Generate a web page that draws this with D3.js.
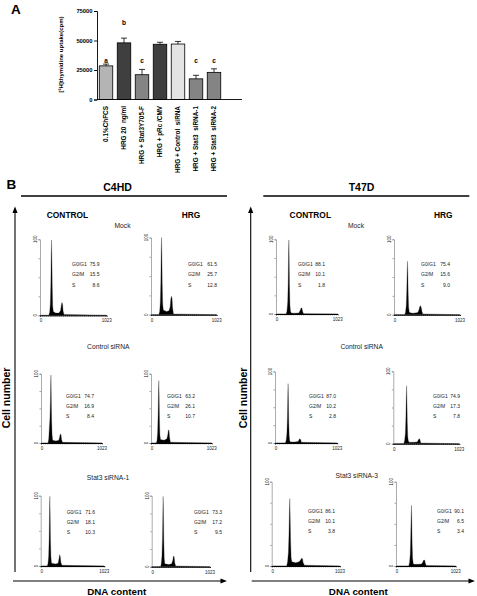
<!DOCTYPE html>
<html><head><meta charset="utf-8">
<script src="https://cdn.jsdelivr.net/npm/d3@7"></script>
<style>
body{margin:0;background:#fff}
svg{display:block}
text{font-family:"Liberation Sans",Arial,sans-serif}
</style>
</head><body>
<svg id="c" width="477" height="596"></svg>
<script>
// ---------------- DATA ----------------
// Panel A
const categories = ["0.1%ChFCS","HRG 20  ng/ml","HRG + Stat3Y705-F","HRG + pRc /CMV","HRG + Control  siRNA","HRG + Stat3  siRNA-1","HRG + Stat3  siRNA-2"];
const uptake = [28500, 48000, 21000, 46800, 47000, 17500, 23000];
const uptakeErr = [1500, 4000, 4500, 1700, 2200, 3000, 3000];
const sigLetters = ["a","b","c","","","c","c"];
const sigLevel = [30900, 63100, 30900, null, null, 30900, 30900];
const yTicksA = [0, 25000, 50000, 75000];

// Panel B
const cellLines = ["C4HD","T47D"];
const conditions = ["CONTROL","HRG"];
const treatmentsC4HD = ["Mock","Control siRNA","Stat3 siRNA-1"];
const treatmentsT47D = ["Mock","Control siRNA","Stat3 siRNA-3"];
const statLabels = ["G0/G1","G2/M","S"];
const statValues = [
  ["75.9","15.5","8.6"], ["61.5","25.7","12.8"], ["88.1","10.1","1.8"], ["75.4","15.6","9.0"],
  ["74.7","16.9","8.4"], ["63.2","26.1","10.7"], ["87.0","10.2","2.8"], ["74.9","17.3","7.8"],
  ["71.6","18.1","10.3"], ["73.3","17.2","9.5"], ["86.1","10.1","3.8"], ["90.1","6.5","3.4"]
];
// histograms: [channel, count %]
const histC4HDCtrlMock = [[0,0],[135,0],[148,4],[158,15],[166,40],[172,80],[177,99],[182,78],[188,38],[195,12],[204,5],[240,3],[290,3],[315,6],[326,13],[336,17],[346,15],[354,6],[368,1],[1023,0]];
const histC4HDHrgMock = [[0,0],[122,0],[135,4],[145,16],[153,42],[159,82],[164,100],[169,80],[175,40],[182,14],[192,6],[240,4],[280,5],[298,10],[308,20],[318,24],[328,21],[336,9],[350,1],[1023,0]];
const histT47DCtrlMock = [[0,0],[168,0],[182,4],[194,16],[202,42],[208,80],[213,99],[218,78],[224,38],[231,12],[240,4],[252,1.5],[300,1],[380,1.5],[402,5],[416,8],[430,8],[442,3],[458,0.5],[1023,0]];
const histT47DHrgMock = [[0,0],[164,0],[178,3],[190,12],[198,32],[204,58],[209,71],[214,56],[220,28],[227,10],[236,4],[248,2.5],[300,2],[370,3],[388,7],[400,11],[412,12],[424,9],[434,4],[448,1],[1023,0]];
const histC4HDCtrlSi = [[0,0],[118,0],[130,6],[140,22],[150,36],[158,60],[163,85],[167,98],[172,70],[178,34],[186,12],[196,4],[250,3],[300,4],[313,9],[324,13],[336,12],[345,5],[360,1],[1023,0]];
const histC4HDHrgSi = [[0,0],[90,0],[102,4],[112,16],[120,42],[127,76],[132,90],[137,70],[143,34],[150,12],[160,5],[220,4],[268,6],[283,12],[294,19],[304,18],[313,8],[328,1],[1023,0]];
const histT47DCtrlSi = [[0,0],[170,0],[184,4],[196,14],[204,36],[210,66],[215,83],[220,64],[226,30],[233,10],[242,3],[254,1.5],[320,1.5],[380,2],[396,5],[408,6],[420,5],[433,1],[1023,0]];
const histT47DHrgSi = [[0,0],[162,0],[175,4],[187,14],[195,36],[201,64],[206,80],[211,62],[217,30],[224,10],[233,4],[245,2],[320,2],[370,2.5],[388,5],[400,7],[412,6],[426,1],[1023,0]];
const histC4HDCtrlS1 = [[0,0],[106,0],[118,4],[128,14],[136,40],[142,78],[147,99],[152,76],[158,36],[165,12],[175,4],[240,3],[280,4],[294,10],[304,16],[314,14],[325,5],[342,1],[1023,0]];
const histC4HDHrgS1 = [[0,0],[156,0],[168,4],[180,15],[189,40],[196,78],[201,99],[206,76],[213,36],[220,12],[230,4],[300,3],[350,4],[370,9],[382,15],[394,14],[406,5],[422,1],[1023,0]];
const histT47DCtrlS3 = [[0,0],[224,0],[238,5],[250,16],[258,36],[265,64],[271,80],[276,62],[283,30],[291,10],[302,5],[360,4],[410,5],[432,7],[446,9],[460,9],[472,4],[490,1],[1023,0]];
const histT47DHrgS3 = [[0,0],[218,0],[232,4],[244,14],[252,34],[259,58],[265,72],[270,56],[277,26],[285,9],[295,3],[308,2],[380,2],[440,2.5],[462,5],[476,7],[490,7],[504,3],[520,0.5],[1023,0]];
const histograms = [histC4HDCtrlMock, histC4HDHrgMock, histT47DCtrlMock, histT47DHrgMock,
                    histC4HDCtrlSi, histC4HDHrgSi, histT47DCtrlSi, histT47DHrgSi,
                    histC4HDCtrlS1, histC4HDHrgS1, histT47DCtrlS3, histT47DHrgS3];
const histYTicks = [0,25,50,75,100];

// ---------------- LAYOUT / STYLE ----------------
const barFills = ["#b4b4b4","#3f3f3f","#848484","#3f3f3f","#e4e4e4","#848484","#848484"];
const histLayout = [
  {x0:40,   x1:106.7, y0:239.3, y1:315.3, sx:72,  vx:99.5, sy:266},
  {x0:151,  x1:216.7, y0:237.5, y1:314.7, sx:188, vx:217,  sy:266},
  {x0:276,  x1:337.7, y0:239.3, y1:314,   sx:298, vx:325,  sy:266},
  {x0:394,  x1:460,   y0:239.3, y1:314.7, sx:421, vx:450,  sy:266},
  {x0:41,   x1:102,   y0:373.7, y1:443,   sx:66,  vx:94,   sy:397.5},
  {x0:151,  x1:211.7, y0:373.7, y1:443,   sx:167, vx:195,  sy:397.5},
  {x0:275,  x1:337.3, y0:371.5, y1:443,   sx:309, vx:336,  sy:397.5},
  {x0:393.3,x1:459.3, y0:371.3, y1:443.7, sx:433, vx:460,  sy:397.5},
  {x0:40.7, x1:104.3, y0:495.7, y1:566,   sx:66.7,vx:95,   sy:513.5},
  {x0:151.7,x1:210,   y0:495.7, y1:566.7, sx:194, vx:222,  sy:513.5},
  {x0:271.7,x1:340,   y0:481.7, y1:566,   sx:308, vx:335,  sy:512.7},
  {x0:396,  x1:455.7, y0:481.7, y1:566,   sx:437, vx:464,  sy:512.7}
];

const svg = d3.select("#c");

// ---------------- PANEL A ----------------
const yA = d3.scaleLinear().domain([0, 75000]).range([99.5, 11]);
const xA = d3.scaleBand().domain(categories).range([97, 223]).paddingInner(0.25).paddingOuter(0.125);

svg.append("text").attr("x", 11).attr("y", 14).attr("font-size", 13.5).attr("font-weight", "bold").text("A");

const gA = svg.append("g");
gA.selectAll("rect.bar").data(categories).join("rect")
  .attr("x", d => xA(d)).attr("width", xA.bandwidth())
  .attr("y", (d, i) => yA(uptake[i])).attr("height", (d, i) => yA(0) - yA(uptake[i]))
  .attr("fill", (d, i) => barFills[i]).attr("stroke", "#000").attr("stroke-width", 0.8);

categories.forEach((c, i) => {
  const cx = xA(c) + xA.bandwidth() / 2;
  gA.append("line").attr("x1", cx).attr("x2", cx)
    .attr("y1", yA(uptake[i])).attr("y2", yA(uptake[i] + uptakeErr[i]))
    .attr("stroke", "#000").attr("stroke-width", 0.8);
  gA.append("line").attr("x1", cx - 3).attr("x2", cx + 3)
    .attr("y1", yA(uptake[i] + uptakeErr[i])).attr("y2", yA(uptake[i] + uptakeErr[i]))
    .attr("stroke", "#000").attr("stroke-width", 0.8);
  if (sigLetters[i]) {
    gA.append("text").attr("x", cx).attr("y", yA(sigLevel[i]))
      .attr("text-anchor", "middle").attr("font-size", 6.5).attr("font-weight", "bold")
      .attr("fill", "#000").text(sigLetters[i]);
  }
  gA.append("text")
    .attr("transform", `translate(${cx + 2.3},106) rotate(-90)`)
    .attr("text-anchor", "end").attr("font-size", 6.4).attr("font-weight", "bold")
    .style("white-space", "pre")
    .text(c);
});

const axA = gA.append("g").attr("transform", "translate(97,0)")
  .call(d3.axisLeft(yA).tickValues(yTicksA).tickSize(3).tickPadding(1.5).tickFormat(d3.format("d")));
axA.selectAll("text").attr("font-size", 5.8).attr("font-weight", "bold").attr("font-family", '"Liberation Sans",Arial,sans-serif');
axA.select(".domain").attr("stroke-width", 0.9);
axA.selectAll(".tick line").attr("stroke-width", 0.9);
gA.append("line").attr("x1", 97).attr("x2", 242).attr("y1", yA(0)).attr("y2", yA(0))
  .attr("stroke", "#000").attr("stroke-width", 0.9);
gA.append("text").attr("transform", "translate(62.5,54.5) rotate(-90)")
  .attr("text-anchor", "middle").attr("font-size", 6).attr("font-weight", "bold")
  .text("[³H]thymidine uptake(cpm)");

// ---------------- PANEL B ----------------
svg.append("text").attr("x", 6.5).attr("y", 188.5).attr("font-size", 13.5).attr("font-weight", "bold").text("B");

const blocks = [
  {name: cellLines[0], cx: 117.5, lx0: 21, lx1: 227, colX: [67.5, 191], ax: 15, hx0: 13, hx1: 227, treat: treatmentsC4HD, tx: [122.5, 108.3, 108], ty: [228.3, 349, 480], ylabX: 10, dnaX: 116.7},
  {name: cellLines[1], cx: 361.5, lx0: 263.3, lx1: 469.3, colX: [310.3, 443.3], ax: 250.7, hx0: 251.7, hx1: 475, treat: treatmentsT47D, tx: [356, 361.7, 356.8], ty: [228.3, 349, 478], ylabX: 247, dnaX: 358.3}
];

blocks.forEach(b => {
  svg.append("text").attr("x", b.cx).attr("y", 190.5).attr("text-anchor", "middle")
    .attr("font-size", 10.5).attr("font-weight", "bold").text(b.name);
  svg.append("line").attr("x1", b.lx0).attr("x2", b.lx1).attr("y1", 196).attr("y2", 196)
    .attr("stroke", "#000").attr("stroke-width", 1.3);
  conditions.forEach((c, j) => {
    svg.append("text").attr("x", b.colX[j]).attr("y", 217.5).attr("text-anchor", "middle")
      .attr("font-size", 8.4).attr("font-weight", "bold").text(c);
  });
  b.treat.forEach((t, j) => {
    svg.append("text").attr("x", b.tx[j]).attr("y", b.ty[j]).attr("text-anchor", "middle")
      .attr("font-size", 6.7).attr("fill", "#222").text(t);
  });
  svg.append("line").attr("x1", b.ax).attr("x2", b.ax).attr("y1", 572).attr("y2", 212)
    .attr("stroke", "#000").attr("stroke-width", 1.1);
  svg.append("path").attr("d", `M${b.ax},206.5 L${b.ax - 2.6},213 L${b.ax + 2.6},213 Z`).attr("fill", "#000");
  svg.append("line").attr("x1", b.hx0).attr("x2", b.hx1 - 5).attr("y1", 581).attr("y2", 581)
    .attr("stroke", "#000").attr("stroke-width", 1.1);
  svg.append("path").attr("d", `M${b.hx1},581 L${b.hx1 - 6.5},578.4 L${b.hx1 - 6.5},583.6 Z`).attr("fill", "#000");
  svg.append("text").attr("transform", `translate(${b.ylabX},398) rotate(-90)`).attr("text-anchor", "middle")
    .attr("font-size", 10.5).attr("font-weight", "bold").text("Cell number");
  svg.append("text").attr("x", b.dnaX).attr("y", 595).attr("text-anchor", "middle")
    .attr("font-size", 9.8).attr("font-weight", "bold").text("DNA content");
});

histograms.forEach((h, i) => {
  const L = histLayout[i];
  const x = d3.scaleLinear().domain([0, 1023]).range([L.x0, L.x1]);
  const y = d3.scaleLinear().domain([0, 100]).range([L.y1, L.y0]);
  const g = svg.append("g");
  g.append("path").datum(h)
    .attr("d", d3.area().x(d => x(d[0])).y0(y(0)).y1(d => y(d[1])))
    .attr("fill", "#000").attr("stroke", "#333").attr("stroke-width", 0.3);
  const ay = g.append("g").attr("transform", `translate(${L.x0},0)`)
    .call(d3.axisLeft(y).tickValues(histYTicks).tickSize(1.5).tickFormat(""));
  ay.select(".domain").attr("stroke", "#888").attr("stroke-width", 0.7);
  ay.selectAll(".tick line").attr("stroke", "#666").attr("stroke-width", 0.6);
  const ax = g.append("g").attr("transform", `translate(0,${L.y1})`)
    .call(d3.axisBottom(x).tickValues(d3.range(0, 1024, 32)).tickSize(1.3).tickFormat(""));
  ax.select(".domain").attr("stroke-width", 1);
  ax.selectAll(".tick line").attr("stroke-width", 0.6);
  [[0, L.y1], [100, L.y0]].forEach(([v, yy]) => {
    g.append("text").attr("transform", `translate(${L.x0 - 3},${yy}) rotate(-90)`)
      .attr("text-anchor", "middle").attr("font-size", 4.5).attr("fill", "#222").text(v);
  });
  g.append("text").attr("x", x(0) + 1).attr("y", L.y1 + 7).attr("text-anchor", "middle")
    .attr("font-size", 4.5).attr("fill", "#222").text(0);
  g.append("text").attr("x", x(1023)).attr("y", L.y1 + 7).attr("text-anchor", "middle")
    .attr("font-size", 4.5).attr("fill", "#222").text(1023);
  statLabels.forEach((s, k) => {
    g.append("text").attr("x", L.sx).attr("y", L.sy + k * 10.3)
      .attr("font-size", 5).attr("fill", "#222").text(s);
    g.append("text").attr("x", L.vx).attr("y", L.sy + k * 10.3).attr("text-anchor", "end")
      .attr("font-size", 5).attr("fill", "#222").text(statValues[i][k]);
  });
});
</script>
</body></html>
